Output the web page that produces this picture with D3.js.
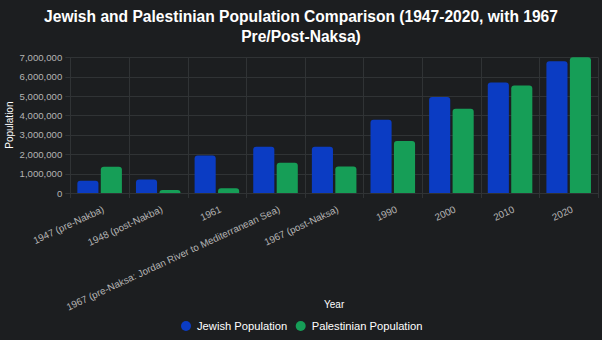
<!DOCTYPE html>
<html><head><meta charset="utf-8">
<script src="https://cdn.jsdelivr.net/npm/d3@7"></script>
<style>
html,body{margin:0;padding:0;background:#1c1e20;}
svg{display:block;font-family:"Liberation Sans",Arial,Helvetica,sans-serif;}
</style></head>
<body><svg id="c" width="602" height="340"></svg>
<script>
const categories = ["1947 (pre-Nakba)","1948 (post-Nakba)","1961","1967 (pre-Naksa: Jordan River to Mediterranean Sea)","1967 (post-Naksa)","1990","2000","2010","2020"];
const jewishPopulation = [630000, 700000, 1930000, 2380000, 2380000, 3780000, 4950000, 5700000, 6800000];
const palestinianPopulation = [1350000, 156000, 240000, 1560000, 1370000, 2680000, 4340000, 5540000, 7000000];
const yTicks = [0,1000000,2000000,3000000,4000000,5000000,6000000,7000000];
const seriesNames = ["Jewish Population","Palestinian Population"];
const seriesColors = ["#0b3cc3","#169e57"];

const svg = d3.select("#c");
const W=602,H=340;
svg.append("rect").attr("width",W).attr("height",H).attr("fill","#1c1e20");

const pL=70.3,pR=598,pT=57.3,pB=193;
const x = d3.scaleBand().domain(categories).range([pL,pR]).paddingInner(0).paddingOuter(0);
const x1 = d3.scaleBand().domain([0,1]).range([0,x.bandwidth()*0.8]).paddingInner(0.1).paddingOuter(0.05);
const y = d3.scaleLinear().domain([0,7000000]).range([pB,pT]);

// title
const title = svg.append("text").attr("x",W/2).attr("text-anchor","middle").attr("fill","#ffffff").attr("font-weight","bold").attr("font-size",15.6);
title.append("tspan").attr("x",W/2).attr("y",22).text("Jewish and Palestinian Population Comparison (1947-2020, with 1967");
title.append("tspan").attr("x",W/2).attr("y",42).text("Pre/Post-Naksa)");

// grid
const g = svg.append("g");
g.selectAll("line.h").data(yTicks).join("line").attr("class","h")
  .attr("x1",pL-5).attr("x2",pR).attr("y1",d=>Math.round(y(d))+0.5).attr("y2",d=>Math.round(y(d))+0.5)
  .attr("stroke","#303335").attr("stroke-width",1);
const bounds = categories.map(c=>x(c)).concat([pR]);
g.selectAll("line.v").data(bounds).join("line").attr("class","v")
  .attr("x1",d=>Math.round(d)+0.5).attr("x2",d=>Math.round(d)+0.5).attr("y1",pT).attr("y2",pB+5)
  .attr("stroke","#303335").attr("stroke-width",1);

// y axis ticks
const yAxis = d3.axisLeft(y).tickValues(yTicks).tickSize(0).tickPadding(0).tickFormat(d3.format(","));
const ya = svg.append("g").attr("transform",`translate(${pL-8},0)`).call(yAxis);
ya.select(".domain").remove();
ya.selectAll("text").attr("fill","#b4b4b4").attr("font-size",9.6).attr("font-family","Liberation Sans, Arial, sans-serif");

// x axis labels
const xAxis = d3.axisBottom(x).tickSize(0).tickPadding(0);
const xa = svg.append("g").attr("transform",`translate(0,${pB})`).call(xAxis);
xa.select(".domain").remove();
xa.selectAll(".tick text").attr("fill","#b4b4b4").attr("font-size",9.8).attr("font-family","Liberation Sans, Arial, sans-serif")
  .attr("text-anchor","end").attr("y",0).attr("dy","0.75em")
  .attr("transform","translate(2,12) rotate(-25)");

// bars
function barPath(x0,y0,w,h,r){
  r=Math.min(r,w/2,h);
  return `M${x0},${y0+h}V${y0+r}Q${x0},${y0} ${x0+r},${y0}H${x0+w-r}Q${x0+w},${y0} ${x0+w},${y0+r}V${y0+h}Z`;
}
const data = categories.map((c,i)=>({c,vals:[jewishPopulation[i],palestinianPopulation[i]]}));
const grp = svg.append("g").selectAll("g").data(data).join("g")
  .attr("transform",d=>`translate(${x(d.c)+x.bandwidth()*0.1},0)`);
grp.selectAll("path").data(d=>d.vals.map((v,k)=>({v,k}))).join("path")
  .attr("d",d=>barPath(x1(d.k), y(d.v), x1.bandwidth(), pB-y(d.v), 3))
  .attr("fill",d=>seriesColors[d.k]);

// axis titles
svg.append("text").attr("x",(pL+pR)/2).attr("y",308).attr("text-anchor","middle").attr("fill","#ffffff").attr("font-size",10).text("Year");
svg.append("text").attr("transform",`translate(12.5,${(pT+pB)/2}) rotate(-90)`).attr("text-anchor","middle").attr("fill","#ffffff").attr("font-size",10).text("Population");

// legend
const legX=[186,300.7];
const leg = svg.append("g").selectAll("g").data(seriesNames).join("g").attr("transform",(d,i)=>`translate(${legX[i]},326)`);
leg.append("circle").attr("r",5).attr("fill",(d,i)=>seriesColors[i]);
leg.append("text").attr("x",11).attr("y",4).attr("fill","#ffffff").attr("font-size",11.2).text(d=>d);
</script></body></html>
